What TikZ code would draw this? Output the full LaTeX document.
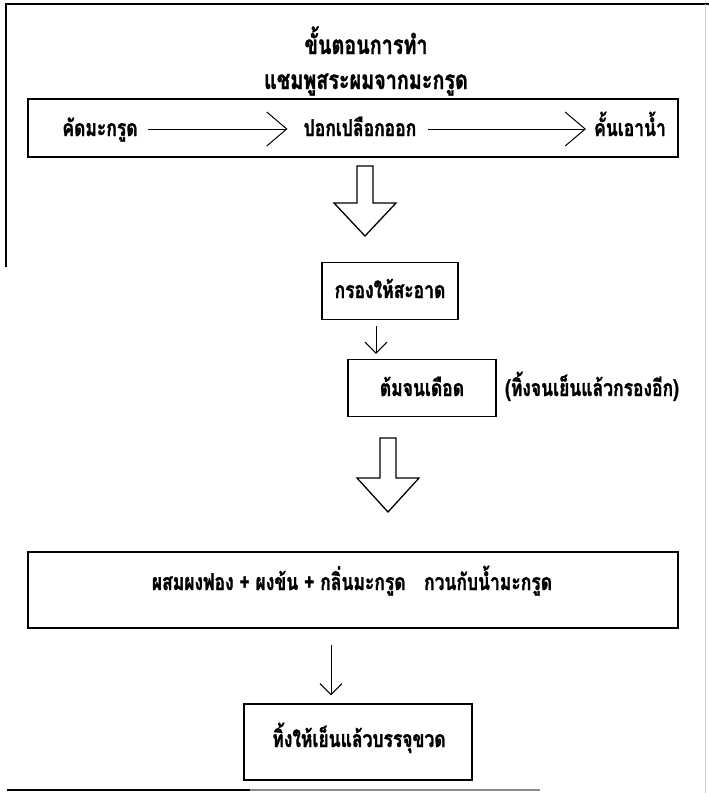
\documentclass[tikz,border=0pt]{standalone}
\usepackage{fontspec}
\usepackage{tikz}
\usetikzlibrary{arrows.meta}
\newfontfamily\thaifont[Script=Thai,FakeStretch=0.76,BoldFeatures={FakeBold=1.3}]{Loma}

\begin{document}
\begin{tikzpicture}[x=1pt,y=-1pt]
\tikzset{
	a/.style={draw=black, line width=1.5pt, inner sep=0pt},
	t/.style={font=\thaifont\bfseries\fontsize{23}{27}\selectfont, inner sep=0pt, anchor=base},
	tt/.style={font=\thaifont\bfseries\fontsize{26}{30}\selectfont, inner sep=0pt, anchor=base},
	hollow/.style={draw=black, line width=1.3pt, line join=miter},
	big/.style={line width=1pt, -{Straight Barb[length=20pt,width=34pt,line width=1pt]}},
	small/.style={line width=1pt, -{Straight Barb[length=11pt,width=22pt,line width=1pt]}}
}
\useasboundingbox (0,0) rectangle (709,793);

% frame
\draw[line width=2.5pt] (5,4) -- (709,4);
\draw[line width=2pt] (6,4) -- (6,267);
\draw[line width=2.5pt] (7,790) -- (250,790);
\draw[line width=2pt, black!45] (250,790) -- (540,790);
\draw[line width=0.6pt, black!20] (705,4) -- (705,793);

% title
\node[tt] (h_1) at (366,54) {ขั้นตอนการทำ};
\node[tt] (h_2) at (366,89) {แชมพูสระผมจากมะกรูด};

% step 1
\node[a, minimum width=650pt, minimum height=58pt] (b_1) at (353,128) {};
\node[t] (t_11) at (100,136) {คัดมะกรูด};
\node[t] (t_12) at (360,136) {ปอกเปลือกออก};
\node[t] (t_13) at (630,136) {คั้นเอาน้ำ};
\draw[big, shorten <=10pt, shorten >=16pt] ([yshift=7pt]t_11.base east) -- ([yshift=7pt]t_12.base west);
\draw[big, shorten <=12pt, shorten >=8pt] ([yshift=7pt]t_12.base east) -- ([yshift=7pt]t_13.base west);

% hollow arrow 1
\coordinate (h_a1) at (365,166);
\draw[hollow] (h_a1) ++(-8,0) -- ++(0,37) -- ++(-23,0) -- ++(31,33) -- ++(31,-33) -- ++(-23,0) -- ++(0,-37) -- cycle;

% step 2, 3
\node[a, minimum width=136pt, minimum height=57pt] (b_2) at (390,291) {};
\node[t] (t_2) at (390,298) {กรองให้สะอาด};
\node[a, minimum width=148pt, minimum height=57pt] (b_3) at (422,388) {};
\node[t] (t_3) at (422,396) {ต้มจนเดือด};
\node[t] (t_31) at (592,396) {(ทิ้งจนเย็นแล้วกรองอีก)};
\coordinate (s_1) at (376,0);
\draw[small, shorten <=6pt, shorten >=5pt] (b_2.south -| s_1) -- (b_3.north -| s_1);

% hollow arrow 2
\coordinate (h_a2) at (388,438);
\draw[hollow] (h_a2) ++(-8,0) -- ++(0,40) -- ++(-23,0) -- ++(31,34) -- ++(31,-34) -- ++(-23,0) -- ++(0,-40) -- cycle;

% step 4
\node[a, minimum width=650pt, minimum height=76pt] (b_4) at (353,590) {};
\node[t] (t_4) at (352,590) {ผสมผงฟอง + ผงข้น + กลิ่นมะกรูด\hspace{0.8em}กวนกับน้ำมะกรูด};

% step 5
\node[a, minimum width=228pt, minimum height=76pt] (b_5) at (358,742) {};
\node[t] (t_5) at (359,747) {ทิ้งให้เย็นแล้วบรรจุขวด};
\coordinate (s_2) at (331,0);
\draw[small, shorten <=16pt, shorten >=8pt] (b_4.south -| s_2) -- (b_5.north -| s_2);

\end{tikzpicture}
\end{document}
